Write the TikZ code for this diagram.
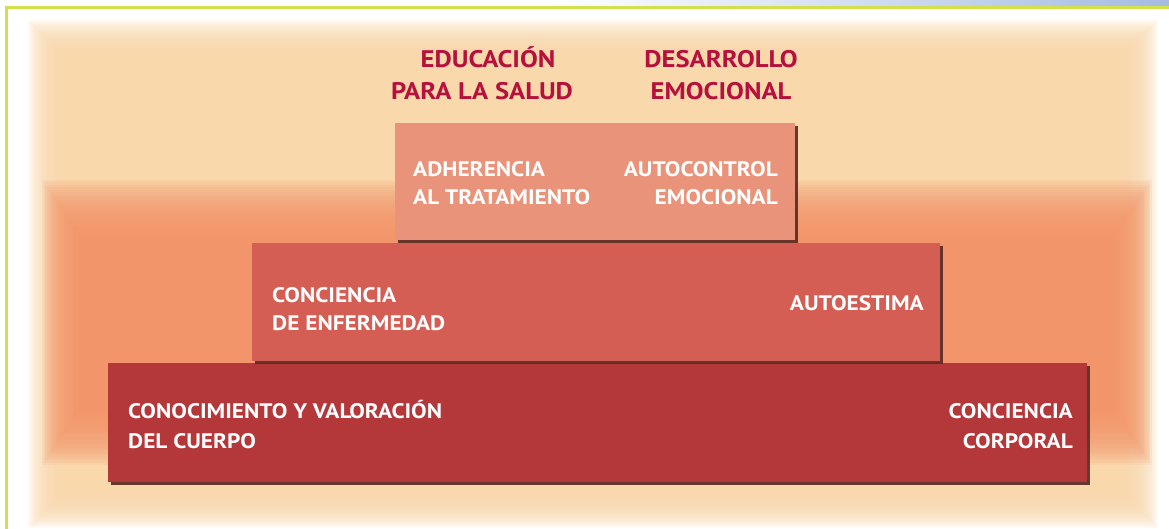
\documentclass[tikz,border=0pt]{standalone}
\usepackage{fontspec}
\setmainfont{PT Sans}[FakeStretch=1.11]
\usetikzlibrary{shadows}
\definecolor{peach}{RGB}{249,216,172}
\definecolor{glowor}{RGB}{243,149,106}
\definecolor{framegreen}{RGB}{210,224,76}
\definecolor{topblue}{RGB}{166,187,226}
\definecolor{headred}{RGB}{182,16,60}
\definecolor{boxA}{RGB}{232,147,122}
\definecolor{boxB}{RGB}{212,94,84}
\definecolor{boxC}{RGB}{180,55,58}
\definecolor{shadowc}{RGB}{88,40,32}
\tikzset{
  level/.style={anchor=north west, inner sep=0pt, outer sep=0pt, draw=none,
    drop shadow={shadow xshift=3pt, shadow yshift=-3pt, fill=shadowc, opacity=0.9}},
  head/.style={inner sep=0pt, text=headred, font=\fontsize{24}{28}\selectfont\bfseries},
  lbl/.style={inner sep=0pt, text=white, font=\fontsize{21}{25}\selectfont\bfseries},
}
\begin{document}
\begin{tikzpicture}[x=1pt,y=-1pt]
\useasboundingbox (0,0) rectangle (1169,529);
\fill[white] (0,0) rectangle (1169,529);
\shade[left color=white,right color=topblue] (550,0) rectangle (1169,8);
% soft glows
\foreach \i in {0,...,19}
  \fill[peach,opacity=0.15] (28+2*\i,20+2*\i) rectangle (1158-2*\i,528-2*\i);
\foreach \i in {0,...,29}
  \fill[glowor,opacity=0.11] (42+1.7*\i,180+2.5*\i) rectangle (1152-1.7*\i,465-2.5*\i);
% frame
\draw[framegreen,line width=3pt] (6,529) -- (6,8) -- (1169,8);
% levels
\node[level, fill=boxC, minimum width=979pt, minimum height=119pt] (base) at (108,363) {};
\node[level, fill=boxB, minimum width=688pt, minimum height=118pt] (mid) at (252,243) {};
\node[level, fill=boxA, minimum width=400pt, minimum height=117pt] (top) at (395,123) {};
% headings
\node[head, anchor=base] (h1a) at (488,68) {EDUCACIÓN};
\node[head, anchor=base] (h1b) at (482,100) {PARA LA SALUD};
\node[head, anchor=base] (h2a) at (721,68) {DESARROLLO};
\node[head, anchor=base] (h2b) at (721,100) {EMOCIONAL};
% top level
\node[lbl, anchor=base west] (t1a) at (413,177) {ADHERENCIA};
\node[lbl, anchor=base west] (t1b) at (413,205) {AL TRATAMIENTO};
\node[lbl, anchor=base east] (t2a) at (778,177) {AUTOCONTROL};
\node[lbl, anchor=base east] (t2b) at (778,205) {EMOCIONAL};
% middle level
\node[lbl, anchor=base west] (m1a) at (272,302) {CONCIENCIA};
\node[lbl, anchor=base west] (m1b) at (272,330) {DE ENFERMEDAD};
\node[lbl, anchor=base east] (m2) at (924,310) {AUTOESTIMA};
% base level
\node[lbl, anchor=base west] (b1a) at (128,418) {CONOCIMIENTO Y VALORACIÓN};
\node[lbl, anchor=base west] (b1b) at (128,448) {DEL CUERPO};
\node[lbl, anchor=base east] (b2a) at (1073,418) {CONCIENCIA};
\node[lbl, anchor=base east] (b2b) at (1073,448) {CORPORAL};
\end{tikzpicture}
\end{document}
